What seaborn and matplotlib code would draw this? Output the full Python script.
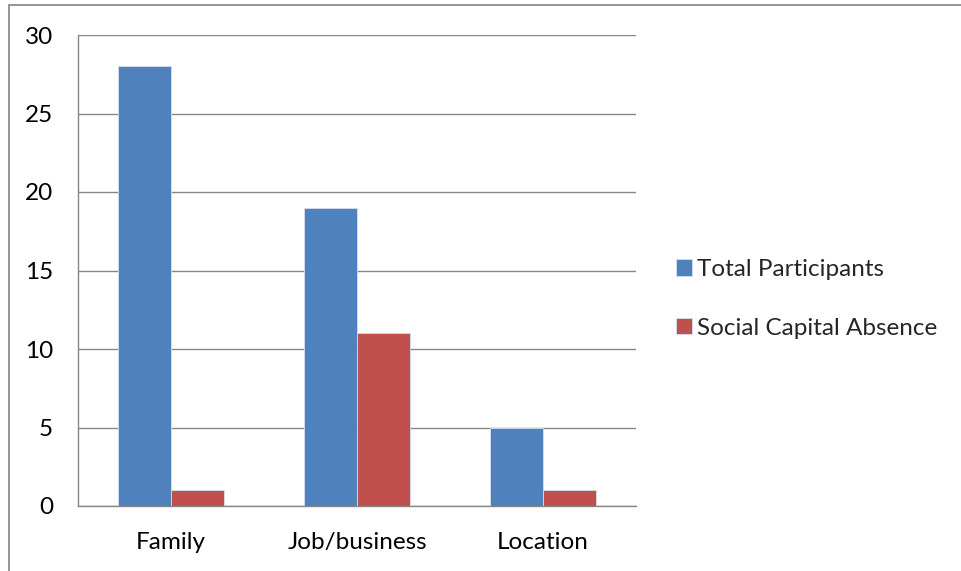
import matplotlib
matplotlib.use("Agg")
import matplotlib.pyplot as plt
from matplotlib.patches import Rectangle
import seaborn as sns
import pandas as pd

categories = ["Family", "Job/business", "Location"]
total_participants = [28, 19, 5]
social_capital_absence = [1, 11, 1]
series_names = ["Total Participants", "Social Capital Absence"]
y_ticks = [0, 5, 10, 15, 20, 25, 30]

df = pd.DataFrame({
    "category": categories * 2,
    "series": [series_names[0]] * 3 + [series_names[1]] * 3,
    "value": total_participants + social_capital_absence,
})

sns.set_theme(style="white")
plt.rcParams["font.family"] = ["Lato", "DejaVu Sans"]

W, H = 961, 571
FS = 17.5
fig = plt.figure(figsize=(W / 100, H / 100), dpi=100)
ax = fig.add_axes([78 / W, 1 - 506 / H, (636 - 78) / W, (506 - 35) / H])

palette = {"Total Participants": "#4F81BD", "Social Capital Absence": "#C0504D"}
sns.barplot(data=df, x="category", y="value", hue="series", palette=palette,
            width=0.57, gap=0, edgecolor="#d6e0ee", linewidth=0.6,
            saturation=1, ax=ax, legend=True, zorder=3)

grid_color = "#868686"
ax.set_xlim(-0.5, 2.5)
ax.set_ylim(0, 30)
ax.set_yticks(y_ticks)
ax.yaxis.grid(True, color=grid_color, linewidth=1.0, zorder=0)
ax.set_axisbelow(True)
ax.set_xlabel("")
ax.set_ylabel("")

for side in ["top", "right"]:
    ax.spines[side].set_visible(False)
for side in ["left", "bottom"]:
    ax.spines[side].set_color(grid_color)
    ax.spines[side].set_linewidth(1.0)

# Category ticks sit on group boundaries; labels at group centres
ax.set_xticks([0, 1, 2])
ax.set_xticks([-0.5, 0.5, 1.5, 2.5], minor=True)
ax.tick_params(axis="x", which="major", length=0, pad=19, labelsize=FS, colors="black")
ax.tick_params(axis="x", which="minor", length=6, width=1.0, color=grid_color, direction="out")
ax.tick_params(axis="y", which="major", length=6, width=1.0, color=grid_color,
               direction="out", pad=12, labelsize=FS, labelcolor="black")
for lab in ax.get_xticklabels() + ax.get_yticklabels():
    lab.set_color("black")

handles, labels = ax.get_legend_handles_labels()
ax.legend(handles, labels, loc="center left", bbox_to_anchor=(676 / W, 1 - 299 / H),
          bbox_transform=fig.transFigure, frameon=False, fontsize=FS,
          handlelength=0.66, handleheight=0.66, handletextpad=0.22,
          labelspacing=1.55, borderpad=0, borderaxespad=0)

# Outer chart frame (left and top edges visible)
fig.patches.append(Rectangle((9 / W, -0.1), 1.2, 1 - 5 / H + 0.1,
                             transform=fig.transFigure, fill=False,
                             edgecolor="#8c8c8c", linewidth=1.3))

fig.savefig("out.png", dpi=100)
